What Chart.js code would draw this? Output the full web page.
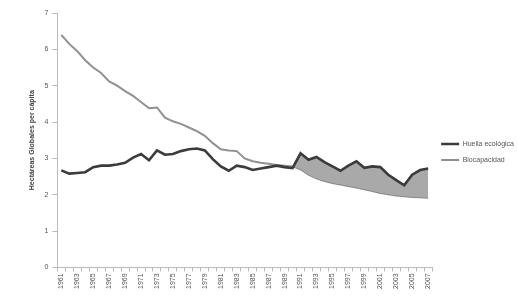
<!DOCTYPE html>
<html>
<head>
<meta charset="utf-8">
<script src="https://cdn.jsdelivr.net/npm/chart.js@4/dist/chart.umd.min.js"></script>
<style>
  html, body { margin: 0; padding: 0; background: #fff; }
  #wrap { width: 517px; height: 300px; position: relative; }
</style>
</head>
<body>
<div id="wrap"><canvas id="myChart"></canvas></div>
<script>
let years = [];
for (let y = 1961; y <= 2007; y++) years.push(String(y));

let seriesNames = ['Huella ecológica', 'Biocapacidad'];

let huella = [
    2.67, 2.58, 2.60, 2.62, 2.76, 2.80, 2.80, 2.83, 2.88, 3.02,
    3.12, 2.95, 3.22, 3.10, 3.12, 3.20, 3.25, 3.27, 3.22, 2.98,
    2.78, 2.66, 2.80, 2.76, 2.68, 2.72, 2.76, 2.80, 2.76, 2.73,
    3.14, 2.96, 3.04, 2.90, 2.78, 2.66, 2.80, 2.92, 2.74, 2.78,
    2.76, 2.55, 2.40, 2.26, 2.55, 2.68, 2.72
];

let biocapacidad = [
    6.40, 6.15, 5.95, 5.70, 5.50, 5.35, 5.12, 5.00, 4.85, 4.72,
    4.55, 4.38, 4.40, 4.12, 4.02, 3.95, 3.85, 3.75, 3.62, 3.42,
    3.25, 3.22, 3.20, 3.00, 2.92, 2.88, 2.85, 2.82, 2.80, 2.78,
    2.70, 2.55, 2.45, 2.38, 2.32, 2.28, 2.24, 2.20, 2.15, 2.10,
    2.05, 2.01, 1.98, 1.96, 1.94, 1.93, 1.92
];

let yTicks = [0, 1, 2, 3, 4, 5, 6, 7];
let yTitle = 'Hectáreas Globales per cápita';

function chart() {
    let ctx = document.getElementById('myChart');
    new Chart(ctx, {
        type: 'line',
        data: {
            labels: years,
            datasets: [{
                label: seriesNames[0],
                data: huella,
                borderColor: '#3b3b3b',
                backgroundColor: '#3b3b3b',
                borderWidth: 2.6,
                pointRadius: 0,
                tension: 0,
                fill: { target: 1, above: '#a9a9a9', below: 'rgba(0,0,0,0)' }
            }, {
                label: seriesNames[1],
                data: biocapacidad,
                borderColor: '#8e8e8e',
                backgroundColor: '#8e8e8e',
                borderWidth: 2,
                pointRadius: 0,
                tension: 0,
                fill: false
            }]
        },
        options: {
            responsive: true,
            maintainAspectRatio: false,
            animation: false,
            layout: { padding: { left: 24, top: 13, bottom: 9, right: -7 } },
            plugins: {
                tooltip: { enabled: false },
                legend: {
                    position: 'right',
                    labels: {
                        usePointStyle: true,
                        pointStyle: 'line',
                        pointStyleWidth: 18,
                        padding: 9,
                        color: '#555',
                        font: { family: 'Liberation Sans', size: 7 }
                    }
                }
            },
            scales: {
                x: {
                    offset: true,
                    grid: { display: true, drawOnChartArea: false, tickLength: 4, color: '#bbb', offset: true },
                    border: { color: '#bbb' },
                    ticks: {
                        autoSkip: false,
                        maxRotation: 90,
                        minRotation: 90,
                        color: '#555',
                        padding: 2,
                        font: { family: 'Liberation Sans', size: 7 },
                        callback: function(v, i) { return i % 2 === 0 ? years[i] : ''; }
                    }
                },
                y: {
                    min: 0,
                    max: 7,
                    afterBuildTicks: function(axis) { axis.ticks = yTicks.map(function(t) { return { value: t }; }); },
                    grid: { drawOnChartArea: false, tickLength: 5, color: '#bbb' },
                    border: { color: '#bbb' },
                    ticks: {
                        color: '#555',
                        padding: 4,
                        font: { family: 'Liberation Sans', size: 7 }
                    },
                    title: {
                        display: true,
                        text: yTitle,
                        color: '#444',
                        padding: 4,
                        font: { family: 'Liberation Sans', size: 7, weight: 'bold' }
                    }
                }
            }
        }
    });
}

window.onload = function() {
    chart();
};
</script>
</body>
</html>
